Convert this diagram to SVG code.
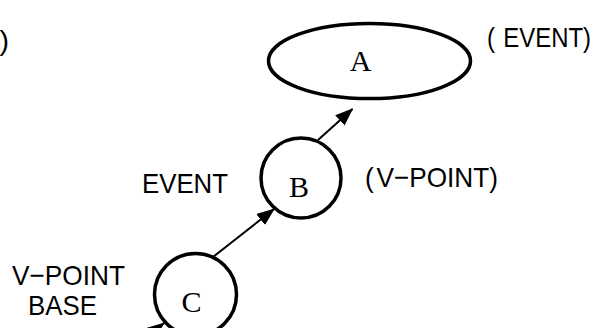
<svg xmlns="http://www.w3.org/2000/svg" width="596" height="328" viewBox="0 0 596 328">
<style>
.node{fill:#fff;stroke:#000;stroke-width:3.5}
.conn{stroke:#000;stroke-width:2;fill:none}
.serif{font-family:"Liberation Serif","Times New Roman",serif;font-size:30px;fill:#000}
.sans{font-family:"Liberation Sans",Arial,"Noto Sans CJK JP",sans-serif;font-size:28.5px;fill:#000}
</style>
<defs>
<marker id="arr" markerUnits="userSpaceOnUse" markerWidth="18" markerHeight="14" refX="17" refY="7" orient="auto">
<path d="M0,0 L18,7 L0,14 z" fill="#000"/>
</marker>
</defs>
<rect width="596" height="328" fill="#fff"/>
<g id="connectors">
<line class="conn" x1="318" y1="140" x2="352.5" y2="109" marker-end="url(#arr)"/>
<line class="conn" x1="213" y1="257" x2="274" y2="209" marker-end="url(#arr)"/>
<line class="conn" x1="131" y1="349" x2="164" y2="323" marker-end="url(#arr)"/>
</g>
<g id="node-A">
<ellipse class="node" cx="369.5" cy="61" rx="101" ry="37.5"/>
<text class="serif" x="360.5" y="70.5" text-anchor="middle">A</text>
</g>
<g id="node-B">
<circle class="node" cx="301" cy="178" r="40"/>
<text class="serif" x="299" y="197" text-anchor="middle">B</text>
</g>
<g id="node-C">
<circle class="node" cx="195.5" cy="294.5" r="41"/>
<text class="serif" x="191.5" y="312" text-anchor="middle">C</text>
</g>
<g id="labels">
<text class="sans" x="-0.5" y="50">)</text>
<text class="sans" transform="translate(487,47) scale(0.84,1)" x="0" y="0">(<tspan dx="10">EVENT)</tspan></text>
<text class="sans" x="142" y="193" textLength="86" lengthAdjust="spacingAndGlyphs">EVENT</text>
<text class="sans" x="365" y="187" textLength="133" lengthAdjust="spacingAndGlyphs">(<tspan dx="3">V−POINT)</tspan></text>
<text class="sans" x="12" y="285" textLength="113" lengthAdjust="spacingAndGlyphs">V−POINT</text>
<text class="sans" x="28" y="315" textLength="69" lengthAdjust="spacingAndGlyphs">BASE</text>
</g>
</svg>
